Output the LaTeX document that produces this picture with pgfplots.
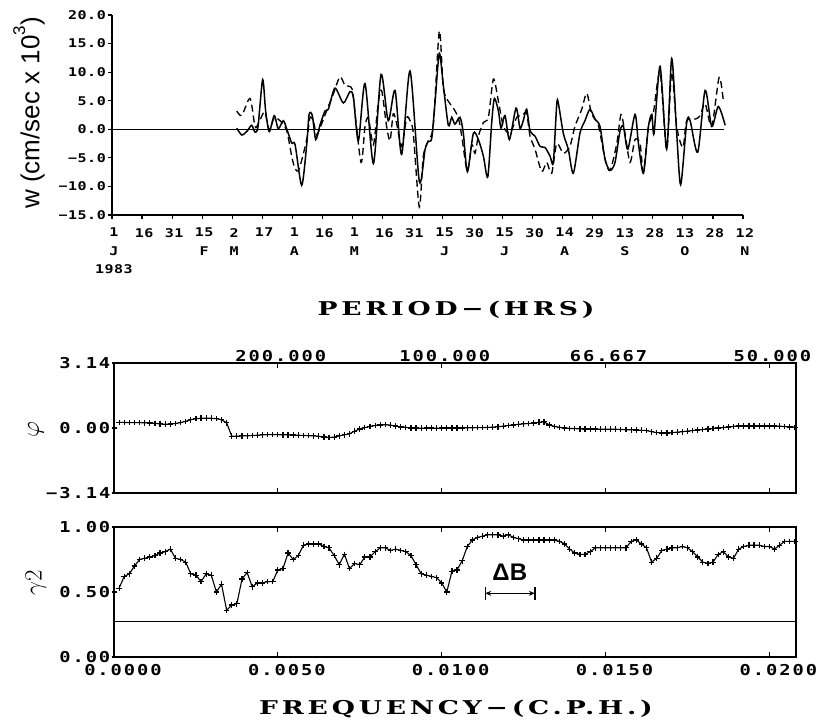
\documentclass[border=0pt]{standalone}
\usepackage{fontspec}
\usepackage{pgfplots}
\usepackage{pgfplotstable}
\pgfplotsset{compat=1.18}
\usetikzlibrary{arrows.meta}
\setmainfont{Liberation Sans}
\newfontfamily\tickA[FakeStretch=1.25,LetterSpace=4,UprightFont=*-Bold]{DejaVu Sans Mono}
\newfontfamily\tickB[FakeStretch=1.25,LetterSpace=13,UprightFont=*-Bold]{DejaVu Sans Mono}
\newfontfamily\ttl[FakeStretch=1.4,LetterSpace=20]{DejaVu Serif}
\pgfplotstableread{
i coh phase
1 0.53 0.27
2 0.62 0.27
3 0.64 0.26
4 0.70 0.26
5 0.75 0.26
6 0.76 0.25
7 0.77 0.24
8 0.78 0.22
9 0.80 0.20
10 0.81 0.18
11 0.83 0.19
12 0.76 0.22
13 0.75 0.26
14 0.73 0.32
15 0.64 0.40
16 0.63 0.45
17 0.58 0.47
18 0.64 0.47
19 0.63 0.47
20 0.50 0.45
21 0.56 0.40
22 0.36 0.25
23 0.40 -0.40
24 0.41 -0.40
25 0.60 -0.38
26 0.65 -0.38
27 0.54 -0.36
28 0.57 -0.35
29 0.57 -0.33
30 0.58 -0.32
31 0.58 -0.32
32 0.67 -0.32
33 0.68 -0.33
34 0.80 -0.33
35 0.75 -0.34
36 0.78 -0.35
37 0.86 -0.36
38 0.87 -0.37
39 0.87 -0.38
40 0.87 -0.40
41 0.85 -0.43
42 0.84 -0.46
43 0.78 -0.44
44 0.71 -0.38
45 0.79 -0.33
46 0.68 -0.28
47 0.72 -0.15
48 0.71 -0.05
49 0.77 0.02
50 0.77 0.08
51 0.81 0.12
52 0.84 0.15
53 0.84 0.16
54 0.82 0.14
55 0.83 0.10
56 0.82 0.05
57 0.81 0.03
58 0.78 0.00
59 0.71 0.00
60 0.64 -0.01
61 0.63 0.00
62 0.62 0.00
63 0.61 -0.01
64 0.57 0.00
65 0.50 0.00
66 0.66 0.00
67 0.67 0.00
68 0.74 0.00
69 0.85 0.01
70 0.90 0.01
71 0.92 0.02
72 0.93 0.02
73 0.94 0.03
74 0.94 0.04
75 0.94 0.06
76 0.93 0.09
77 0.94 0.12
78 0.92 0.15
79 0.91 0.18
80 0.90 0.20
81 0.90 0.22
82 0.90 0.24
83 0.90 0.28
84 0.90 0.30
85 0.90 0.15
86 0.90 0.08
87 0.89 0.03
88 0.87 0.00
89 0.83 -0.02
90 0.80 -0.03
91 0.79 -0.04
92 0.79 -0.05
93 0.81 -0.05
94 0.84 -0.05
95 0.84 -0.06
96 0.84 -0.06
97 0.84 -0.06
98 0.84 -0.06
99 0.84 -0.07
100 0.84 -0.08
101 0.89 -0.09
102 0.90 -0.10
103 0.87 -0.11
104 0.84 -0.12
105 0.73 -0.18
106 0.76 -0.22
107 0.82 -0.24
108 0.83 -0.24
109 0.84 -0.22
110 0.84 -0.20
111 0.85 -0.18
112 0.84 -0.15
113 0.81 -0.12
114 0.77 -0.10
115 0.73 -0.07
116 0.72 -0.05
117 0.73 -0.02
118 0.79 0.00
119 0.81 0.02
120 0.77 0.05
121 0.76 0.08
122 0.83 0.10
123 0.85 0.10
124 0.86 0.10
125 0.86 0.10
126 0.86 0.10
127 0.85 0.10
128 0.85 0.10
129 0.83 0.10
130 0.86 0.09
131 0.89 0.07
132 0.89 0.05
133 0.89 0.03
}\spec
\begin{document}
\begin{tikzpicture}[x=1pt,y=1pt]
\useasboundingbox (0,0) rectangle (817,-724);
% ---------------- top: time series ----------------
\begin{axis}[at={(112pt,-215pt)},anchor=south west,scale only axis,
  width=631pt,height=200pt,
  xmin=0,xmax=315,ymin=-15,ymax=20,
  axis x line=bottom, axis y line=left,
  axis line style={-,line width=1.3pt},
  tick align=outside, major tick length=4pt, tick style={black,line width=1.1pt},
  xtick={0,15,...,315},
  xticklabels={{1\\J\\1983},16,31,{15\\F},{2\\M},17,{1\\A},16,{1\\M},16,31,{15\\J},30,{15\\J},30,{14\\A},29,{13\\S},28,{13\\O},28,{12\\N}},
  xticklabel style={font=\fontsize{12}{18.5}\selectfont\tickA,align=center,inner sep=2pt,yshift=-7pt,xshift=2pt},
  ytick={-15,-10,...,20},
  yticklabels={−15.0,−10.0,−5.0,0.0,5.0,10.0,15.0,20.0},
  yticklabel style={font=\fontsize{12}{12}\selectfont\tickA,inner sep=2pt}]
\addplot[black,line width=1.4pt] coordinates {(0,0) (305.5,0)};
\addplot[black,line width=1.5pt,smooth,tension=0.45] coordinates {
(62.3,0.2) (64.8,-1.0) (67.5,-0.3) (69.7,0.7) (71.4,-0.5) (72.9,0.5) (75.2,8.7) (76.7,3.2) (78.5,-0.4) (81.0,2.4) (83.0,0.1) (85.5,1.5) (87.2,0.1) (89.7,-2.4) (91.4,-2.7) (94.7,-9.8) (97.2,-2.7) (98.4,2.6) (100.0,2.4) (101.7,-1.8) (103.8,0.7) (106.3,3.2) (108.0,3.5) (111.3,7.2) (115.5,4.6) (118.8,6.6) (120.5,5.6) (123.0,-2.0) (126.3,8.0) (130.5,-6.0) (134.3,9.6) (137.9,1.5) (141.3,6.8) (144.6,-4.4) (148.8,10.2) (153.4,-9.1) (156.3,-3.5) (157.9,-2.1) (159.6,-1.6) (161.3,4.9) (163.4,13.3) (165.4,7.7) (167.9,0.7) (169.6,2.1) (171.2,0.9) (173.7,2.1) (175.4,-0.7) (177.4,-7.4) (180.4,-0.7) (182.9,-1.8) (185.4,-4.7) (187.6,-8.3) (189.6,1.4) (190.9,5.4) (192.9,3.2) (194.2,0.2) (196.2,2.4) (198.4,-1.8) (201.7,3.7) (203.7,0.2) (205.3,1.5) (207.0,3.5) (208.7,-0.3) (211.2,-1.2) (213.7,-3.0) (216.2,-3.2) (218.7,-4.7) (220.3,-5.8) (222.0,4.3) (222.8,4.6) (225.3,-0.7) (227.8,-3.5) (230.3,-7.7) (233.6,-0.7) (236.1,1.5) (238.6,3.5) (241.1,1.8) (243.6,0.5) (246.1,-5.2) (248.6,-7.2) (251.1,-5.8) (253.6,-0.3) (255.3,0.5) (257.5,-3.5) (261.1,2.6) (262.8,-2.5) (265.3,-7.7) (267.8,0.5) (269.5,2.6) (270.6,-0.7) (273.6,11.0) (276.9,-3.5) (279.4,12.4) (281.9,-0.7) (283.9,-9.7) (286.9,1.2) (288.6,1.5) (292.4,-4.0) (296.1,6.8) (299.4,0.5) (302.7,4.0) (306.1,0.7)};
\addplot[black,line width=1.35pt,dash pattern=on 7pt off 4pt,smooth,tension=0.45] coordinates {
(62.3,3.2) (64.8,2.4) (68.9,5.4) (71.4,0.5) (73.0,1.0) (75.2,2.6) (76.4,3.0) (78.5,-0.1) (81.0,2.0) (83.9,1.5) (87.2,-0.2) (89.7,-4.7) (91.4,-6.9) (93.4,-7.0) (97.2,-1.8) (98.8,2.0) (100.5,1.5) (102.2,-1.0) (104.7,1.0) (107.2,3.3) (110.5,6.2) (113.8,9.2) (116.3,7.7) (119.3,7.4) (120.5,5.6) (124.3,-5.8) (126.3,0.5) (128.0,2.0) (130.5,-2.7) (132.9,4.6) (134.6,6.8) (137.1,0.5) (138.8,-2.0) (140.4,2.7) (142.1,1.0) (144.6,-3.0) (147.1,2.0) (148.8,1.5) (150.4,-0.7) (153.4,-13.6) (155.4,-4.7) (157.9,-2.0) (160.4,0.7) (163.4,17.2) (165.4,7.2) (167.9,4.9) (170.4,3.7) (172.9,2.0) (174.6,-1.2) (177.4,-7.4) (179.6,-2.7) (181.2,-4.2) (182.9,-1.2) (185.4,1.2) (187.9,2.1) (190.4,8.8) (192.9,4.9) (195.4,0.5) (198.7,-0.7) (202.1,2.1) (205.3,2.6) (207.0,2.9) (208.7,-1.2) (211.2,-3.5) (214.5,-7.4) (217.0,-5.8) (219.5,-7.7) (222.0,-2.5) (225.3,-4.2) (228.6,-3.0) (231.1,0.5) (234.5,3.5) (237.0,6.3) (239.5,2.6) (242.8,0.7) (246.1,-5.2) (248.6,-7.2) (252.0,-2.5) (254.1,2.6) (256.1,-0.7) (258.6,-5.8) (261.1,-1.8) (263.6,-2.5) (265.3,-7.4) (267.8,0.5) (270.3,3.0) (273.6,10.0) (276.9,-3.5) (279.4,10.0) (281.9,0.5) (285.0,-3.2) (286.9,1.5) (291.4,1.8) (293.6,2.4) (296.1,4.5) (299.4,0.5) (303.1,9.1) (305.2,4.9)};
\end{axis}
\node[rotate=90,font=\fontsize{26}{26}\selectfont] at (29,-113) {w (cm/sec x 10\raisebox{0.55em}{\fontsize{17}{17}\selectfont 3})};
% ---------------- titles ----------------
\node[font=\fontsize{19}{19}\selectfont\ttl\bfseries] at (456,-310) {PERIOD−(HRS)};
\node[font=\fontsize{19}{19}\selectfont\ttl\bfseries] at (456,-709) {FREQUENCY−(C.P.H.)};
% ---------------- phase ----------------
\begin{axis}[at={(114pt,-493pt)},anchor=south west,scale only axis,
  width=682pt,height=130pt,
  xmin=0,xmax=133.2,ymin=-3.14,ymax=3.14,
  axis line style={line width=1.3pt},
  tick style={black,line width=1.1pt}, major tick length=5pt,
  xtick={32,64,96,128}, xtick pos=both, xtick align=inside,
  xticklabel pos=upper,
  xticklabels={200.000,100.000,66.667,50.000},
  xticklabel style={font=\fontsize{15}{15}\selectfont\tickB,inner sep=1pt,xshift=3pt},
  ytick={-3.14,0,3.14}, ytick pos=left, ytick align=center,
  yticklabels={−3.14,0.00,3.14},
  yticklabel style={font=\fontsize{15}{15}\selectfont\tickB,inner sep=1pt}]
\addplot[black,line width=1.1pt,mark=+,mark size=2.8pt,mark options={line width=1.2pt}] table[x=i,y=phase] {\spec};
\end{axis}
\node[rotate=90,font=\fontsize{26}{26}\selectfont] at (36,-430) {$\varphi$};
% ---------------- coherence ----------------
\begin{axis}[at={(114pt,-657pt)},anchor=south west,scale only axis,
  width=682pt,height=130pt,
  xmin=0,xmax=133.2,ymin=0,ymax=1,
  axis line style={line width=1.3pt},
  tick style={black,line width=1.1pt}, major tick length=5pt,
  xtick={0,32,64,96,128}, xtick pos=both, xtick align=inside,
  xticklabels={0.0000,0.0050,0.0100,0.0150,0.0200},
  xticklabel style={font=\fontsize{15}{15}\selectfont\tickB,inner sep=1pt,xshift=9pt,yshift=-6pt},
  ytick={0,0.5,1}, ytick pos=left, ytick align=center,
  yticklabels={0.00,0.50,1.00},
  yticklabel style={font=\fontsize{15}{15}\selectfont\tickB,inner sep=1pt}]
\addplot[black,line width=1.1pt] coordinates {(0,0.27) (133.2,0.27)};
\addplot[black,line width=1.1pt,mark=+,mark size=2.8pt,mark options={line width=1.2pt}] table[x=i,y=coh] {\spec};
\node[font=\fontsize{24}{24}\selectfont\bfseries] at (axis cs:77.3,0.65) {ΔB};
\draw[line width=1.2pt,{Stealth[length=6pt,width=5pt]}-{Stealth[length=6pt,width=5pt]}] (axis cs:72.5,0.49) -- (axis cs:82.2,0.49);
\draw[line width=1.3pt] (axis cs:72.5,0.44) -- (axis cs:72.5,0.54);
\draw[line width=1.3pt] (axis cs:82.2,0.44) -- (axis cs:82.2,0.54);
\end{axis}
\node[rotate=90,font=\fontsize{30}{30}\selectfont] at (36,-583) {$\gamma2$};
\end{tikzpicture}
\end{document}
